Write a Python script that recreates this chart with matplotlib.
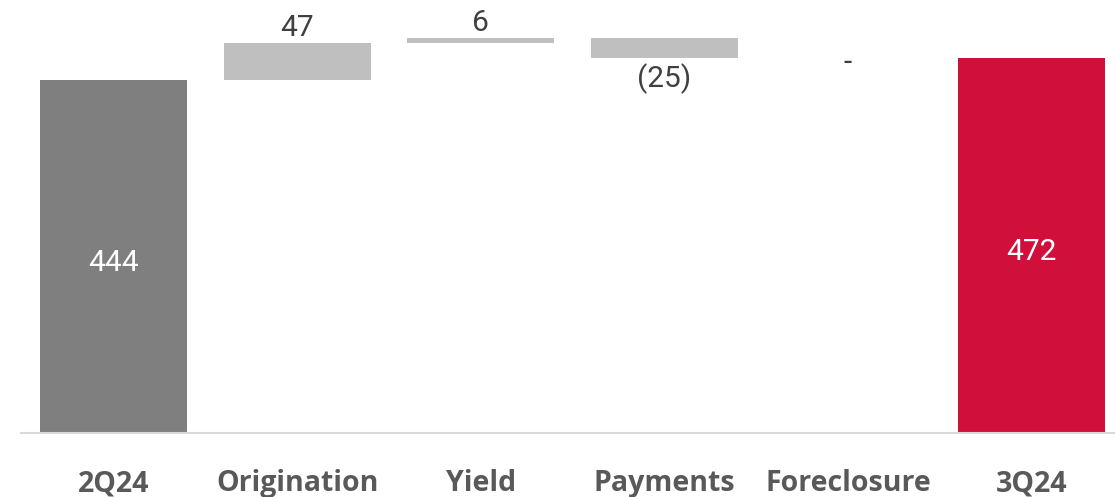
import matplotlib.pyplot as plt

# waterfall data
cats = ['2Q24', 'Origination', 'Yield', 'Payments', 'Foreclosure', '3Q24']
start_val = 444
deltas = [47, 6, -25, 0]
end_val = 472
delta_labels = ['47', '6', '(25)', '-']

dark_grey = '#7F7F7F'
light_grey = '#BFBFBF'
red = '#D0103A'
txt = '#404040'
num_font = ['Roboto', 'DejaVu Sans']

fig = plt.figure(figsize=(11.15, 4.97), dpi=100)
ax = fig.add_axes([21 / 1115, 64 / 497, 1 - 21 / 1115, 433 / 497])

w = 0.8
ax.bar(0, start_val, width=w, color=dark_grey)
ax.text(0, start_val / 2 - 8, str(start_val), ha='center', va='center', color='white',
        fontsize=21.5, family=num_font)

running = start_val
for i, d in enumerate(deltas):
    x = i + 1
    lo = min(running, running + d)
    if d != 0:
        ax.bar(x, abs(d), bottom=lo, width=w, color=light_grey)
    if d > 0:
        ax.text(x, running + d + 1, delta_labels[i], ha='center', va='bottom', color=txt,
                fontsize=21.5, family=num_font)
    elif d < 0:
        ax.text(x, running + d - 7, delta_labels[i], ha='center', va='top', color=txt,
                fontsize=21.5, family=num_font)
    else:
        ax.text(x, running - 6, delta_labels[i], ha='center', va='center', color=txt,
                fontsize=21.5, family=num_font)
    running += d

ax.bar(5, end_val, width=w, color=red)
ax.text(5, end_val / 2 - 8, str(end_val), ha='center', va='center', color='white',
        fontsize=21.5, family=num_font)

ax.set_xlim(-0.504, 5.455)
ax.set_ylim(0, 545)
ax.set_xticks(range(len(cats)))
ax.set_xticklabels(cats, fontsize=20.5, fontweight='bold', color='#595959', family='Open Sans')
ax.tick_params(axis='x', length=0, pad=26)
ax.set_yticks([])
for s in ['top', 'left', 'right']:
    ax.spines[s].set_visible(False)
ax.spines['bottom'].set_color('#D9D9D9')
ax.spines['bottom'].set_linewidth(1.5)

fig.savefig('out.png', dpi=100)
